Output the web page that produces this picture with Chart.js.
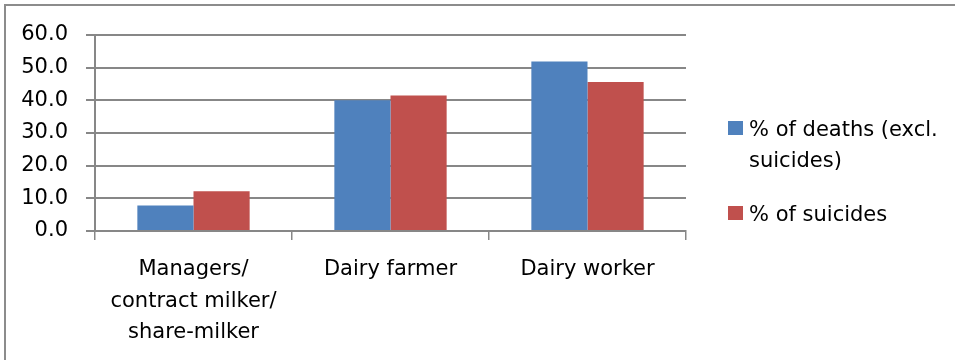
<!DOCTYPE html>
<html>
<head>
<meta charset="utf-8">
<script src="https://cdn.jsdelivr.net/npm/chart.js@4.4.1/dist/chart.umd.min.js"></script>
<style>
    html, body { margin: 0; padding: 0; background: #fff; }
    #wrap { position: relative; width: 955px; height: 360px; overflow: hidden; }
    #frame { position: absolute; left: 4px; top: 4px; width: 1000px; height: 400px;
             border-top: 2px solid #8c8c8c; border-left: 2px solid #8c8c8c; }
    canvas { position: absolute; left: 0; top: 0; }
</style>
</head>
<body>
<div id="wrap">
    <div id="frame"></div>
    <canvas id="chart" width="955" height="360"></canvas>
</div>
<script>
const categories = [['Managers/', 'contract milker/', 'share-milker'], 'Dairy farmer', 'Dairy worker'];
const seriesNames = ['% of deaths (excl. suicides)', '% of suicides'];
const deathsExclSuicides = [7.8, 40.0, 51.9];
const suicides = [12.2, 41.5, 45.6];
const yTicks = [0, 10, 20, 30, 40, 50, 60];

const FONT = 'DejaVu Sans';
const gridColor = '#878787';

// legend on the right, wrapped the way the original does it
const sideLegend = {
    id: 'sideLegend',
    afterDraw(chart) {
        const ctx = chart.ctx;
        const rows = [121, 206];
        ctx.save();
        ctx.font = '21px "' + FONT + '"';
        ctx.textBaseline = 'alphabetic';
        chart.data.datasets.forEach((ds, i) => {
            const y = rows[i];
            ctx.fillStyle = ds.backgroundColor;
            ctx.fillRect(728, y, 15, 14);
            // wrap label
            const words = ds.label.split(' ');
            const lines = [];
            let line = '';
            words.forEach(w => {
                const test = line ? line + ' ' + w : w;
                if (ctx.measureText(test).width > 200 && line) {
                    lines.push(line);
                    line = w;
                } else {
                    line = test;
                }
            });
            lines.push(line);
            ctx.fillStyle = '#000';
            lines.forEach((l, j) => ctx.fillText(l, 749, y + 15 + j * 31));
        });
        ctx.restore();
    }
};

new Chart(document.getElementById('chart'), {
    type: 'bar',
    data: {
        labels: categories,
        datasets: [
            { label: seriesNames[0], data: deathsExclSuicides, backgroundColor: '#4f81bd' },
            { label: seriesNames[1], data: suicides, backgroundColor: '#c0504d' }
        ]
    },
    options: {
        responsive: false,
        devicePixelRatio: 1,
        animation: false,
        layout: { padding: { left: 0, top: 35, right: 269, bottom: 0 } },
        datasets: { bar: { categoryPercentage: 0.57, barPercentage: 1.0 } },
        plugins: { legend: { display: false }, tooltip: { enabled: false } },
        scales: {
            x: {
                offset: true,
                grid: { offset: true, drawOnChartArea: false, drawTicks: true, tickLength: 9, color: gridColor, lineWidth: 1.5 },
                border: { color: gridColor, width: 2 },
                ticks: { color: '#000', font: { family: FONT, size: 21, lineHeight: 1.5 }, padding: 14, maxRotation: 0, autoSkip: false },
                afterFit(scale) { scale.height = 360 - 231; }
            },
            y: {
                min: 0,
                max: 60,
                afterBuildTicks(scale) { scale.ticks = yTicks.map(v => ({ value: v })); },
                grid: { color: gridColor, lineWidth: 2, tickLength: 9 },
                border: { color: gridColor, width: 2 },
                ticks: {
                    color: '#000',
                    font: { family: FONT, size: 21 },
                    padding: 18,
                    callback: v => v.toFixed(1)
                },
                afterFit(scale) { scale.width = 95; }
            }
        }
    },
    plugins: [sideLegend]
});
</script>
</body>
</html>
